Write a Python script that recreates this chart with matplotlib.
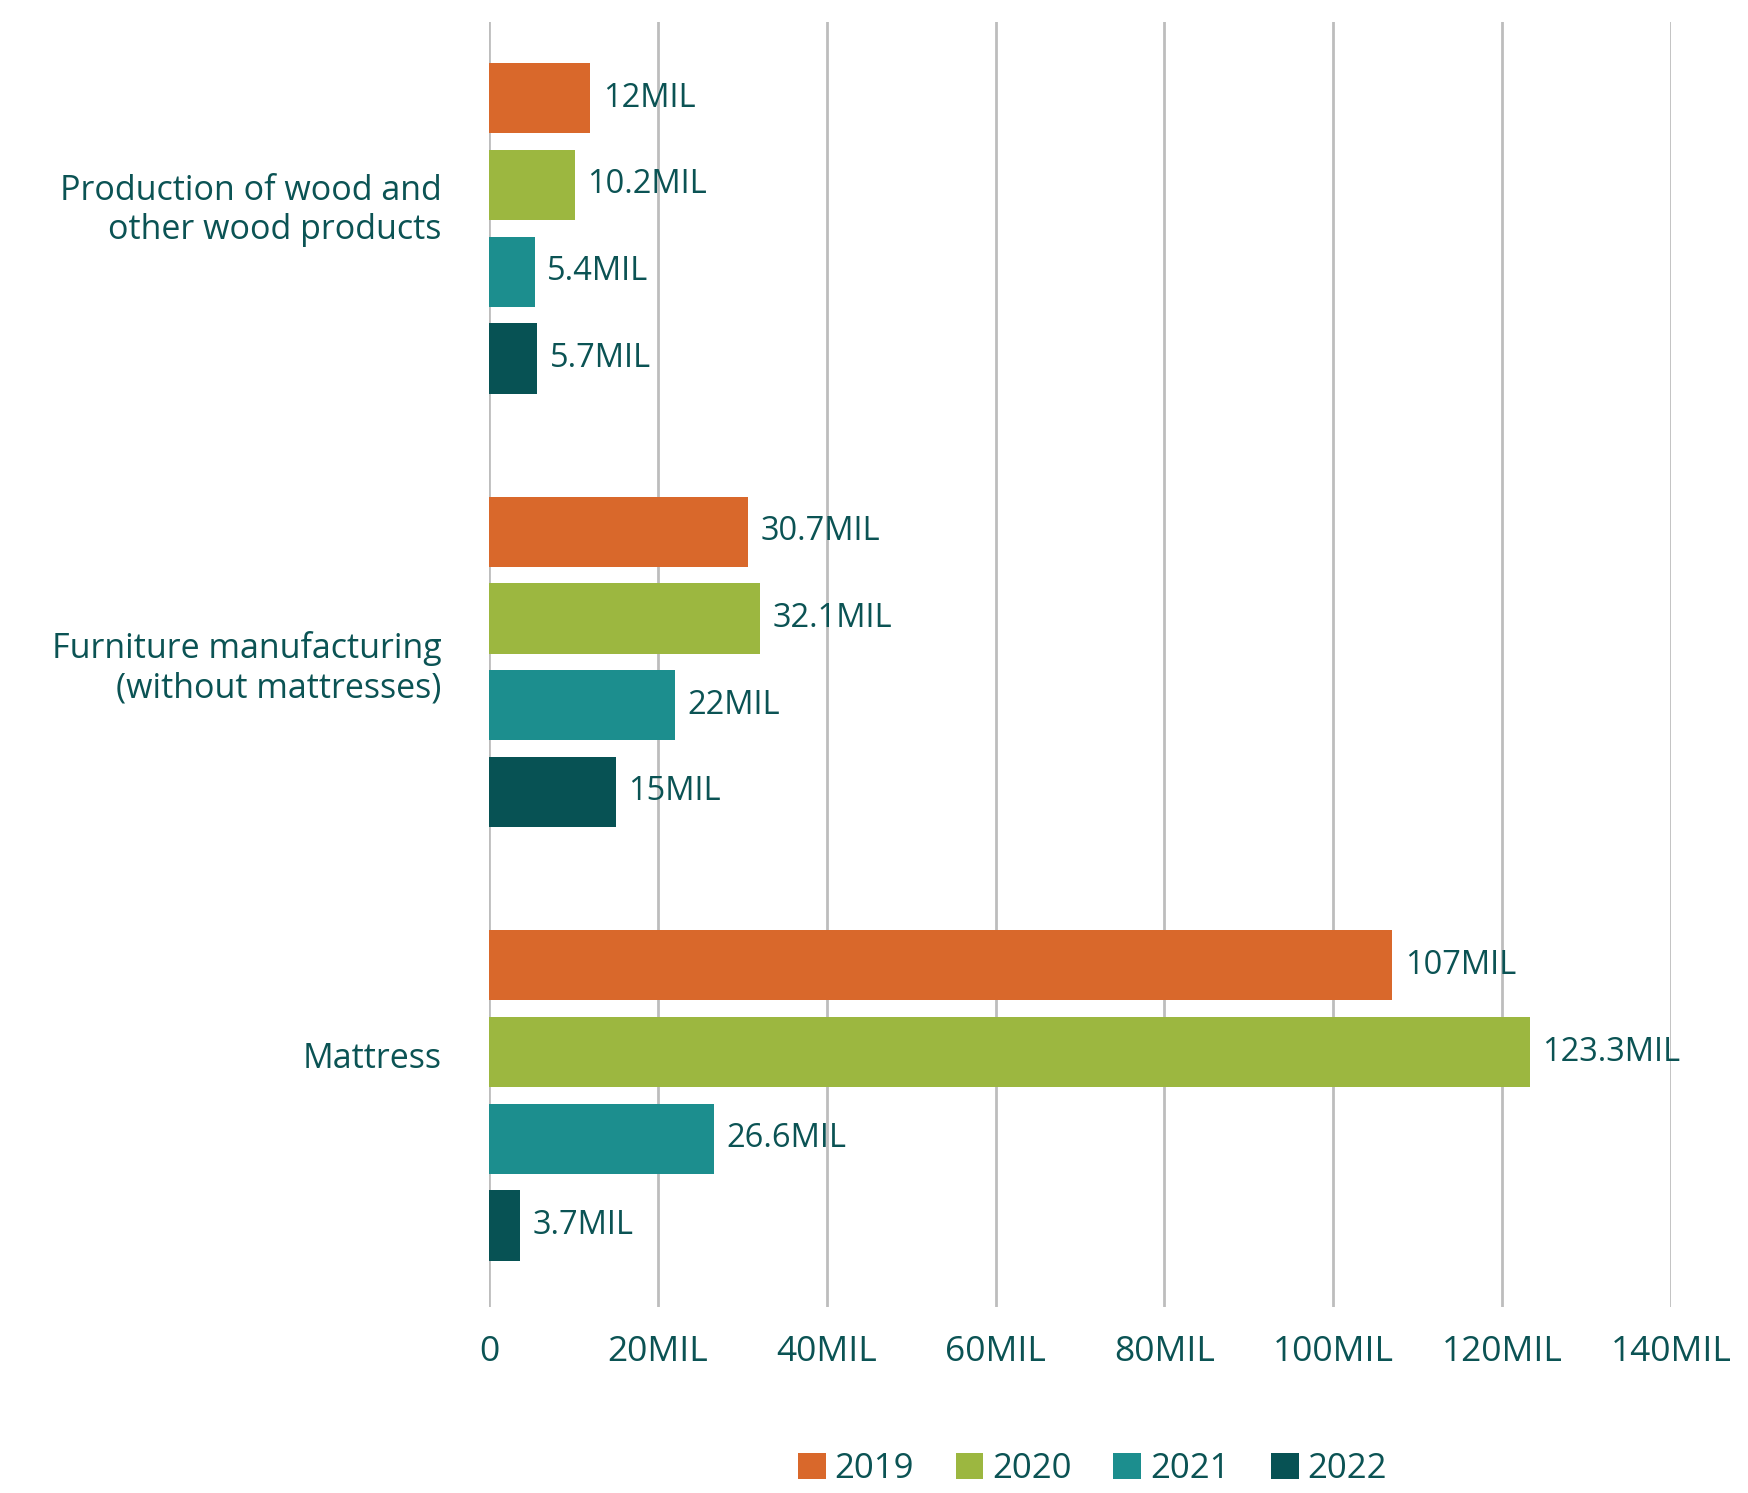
import matplotlib.pyplot as plt
import numpy as np

# data (millions)
categories = ['Production of wood and\nother wood products',
              'Furniture manufacturing\n(without mattresses)',
              'Mattress']
years = ['2019', '2020', '2021', '2022']
values = {
    '2019': [12, 30.7, 107],
    '2020': [10.2, 32.1, 123.3],
    '2021': [5.4, 22, 26.6],
    '2022': [5.7, 15, 3.7],
}
value_labels = {
    '2019': ['12MIL', '30.7MIL', '107MIL'],
    '2020': ['10.2MIL', '32.1MIL', '123.3MIL'],
    '2021': ['5.4MIL', '22MIL', '26.6MIL'],
    '2022': ['5.7MIL', '15MIL', '3.7MIL'],
}
xticks = [0, 20, 40, 60, 80, 100, 120, 140]

colors = ['#D9682B', '#9CB740', '#1C8E8E', '#075254']
text_color = '#0B5354'
plt.rcParams['font.family'] = ['Open Sans', 'DejaVu Sans']
plt.rcParams['font.weight'] = 'medium'

fig = plt.figure(figsize=(17.48, 14.93), dpi=100)
ax = fig.add_axes([0.2797, 0.1246, 0.956 - 0.2797, 0.985 - 0.1246])

group_step = 5
for i, yr in enumerate(years):
    ys = np.arange(len(categories)) * group_step + i
    bars = ax.barh(ys, values[yr], height=0.81, color=colors[i], label=yr, zorder=2)
    for b, lab in zip(bars, value_labels[yr]):
        ax.annotate(lab, (b.get_width(), b.get_y() + b.get_height() / 2),
                    xytext=(9, 0), textcoords='offset points',
                    va='center', ha='left', fontsize=23.5, color=text_color)

# category labels sit a bit above the group centres in the original
label_shift = [-0.28, 0.0, -0.47]
ax.set_xlim(0, 140)
ax.set_ylim(13.94, -0.875)
ax.set_xticks(xticks)
ax.set_xticklabels(['0' if v == 0 else f'{v}MIL' for v in xticks])
ax.set_yticks(np.arange(len(categories)) * group_step + 1.5 + np.array(label_shift))
ax.set_yticklabels(categories, ha='right', linespacing=1.2)
ax.tick_params(axis='x', length=0, pad=20, labelsize=25.5, labelcolor=text_color)
ax.tick_params(axis='y', length=0, pad=34, labelsize=24.5, labelcolor=text_color)
ax.grid(axis='x', color='#BDBDBD', linewidth=2, zorder=0)
ax.set_axisbelow(True)
for s in ax.spines.values():
    s.set_visible(False)

fig.legend(loc='center', bbox_to_anchor=(0.625, 0.016), ncol=4, frameon=False,
           fontsize=25, handlelength=0.8, handleheight=0.8, handletextpad=0.25,
           columnspacing=1.2, labelcolor=text_color)

fig.savefig('out.png', dpi=100)
